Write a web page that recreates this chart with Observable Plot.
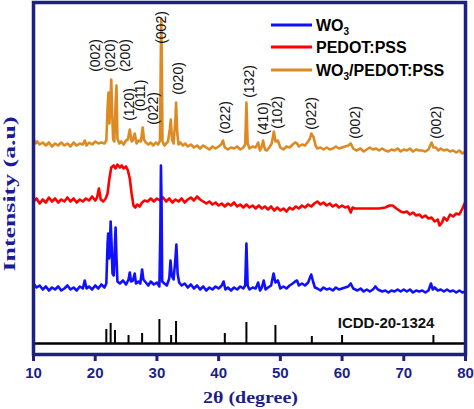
<!DOCTYPE html>
<html><head><meta charset="utf-8">
<script src="https://cdn.jsdelivr.net/npm/d3@7"></script>
<script src="https://cdn.jsdelivr.net/npm/@observablehq/plot@0.6"></script>
<style>body{margin:0;background:#fff} svg{display:block}</style>
</head><body><div id="chart"></div>
<script>
// ---- data (2θ in degrees, intensity in a.u., traces as stacked in the figure) ----
const seriesNames = ["WO3", "PEDOT:PSS", "WO3/PEDOT:PSS"];
const seriesColors = ["#1010ff", "#ff0000", "#dd8a22"];

const wo3 = [
 [10,70],[10.5,66],[11,68],[11.5,64],[12,67],[12.5,63],[13,66],[13.5,64],[14,67],[14.5,63],
 [15,65],[15.5,68],[16,64],[16.5,66],[17,63],[17.5,67],[18,65],[18.3,73],[18.6,65],[19,67],
 [19.5,64],[20,68],[20.5,65],[21,69],[21.5,66],[21.8,70],[22,110],[22.1,120],[22.25,95],[22.35,100],
 [22.5,132],[22.65,110],[22.8,80],[23,78],[23.2,110],[23.3,126],[23.45,95],[23.6,72],[24,70],[24.5,73],
 [25,69],[25.4,74],[25.6,81],[25.8,72],[26.1,73],[26.4,80],[26.6,70],[27,72],[27.3,70],[27.6,84],
 [27.8,74],[28.2,71],[28.6,68],[29,72],[29.5,69],[30,71],[30.4,67],[30.55,120],[30.65,188],[30.75,150],
 [30.85,72],[31.2,70],[31.6,68],[32,75],[32.2,93],[32.4,78],[32.7,74],[33,95],[33.15,109],[33.35,80],
 [33.6,71],[34,68],[34.5,70],[35,66],[35.5,69],[36,65],[36.5,68],[37,64],[37.5,67],[38,63],
 [38.5,66],[39,64],[39.5,67],[40,65],[40.5,68],[40.8,72],[41.1,64],[41.5,66],[42,63],[42.5,66],
 [43,64],[43.5,67],[44,65],[44.3,68],[44.5,110],[44.7,68],[45,64],[45.5,66],[46,65],[46.4,71],
 [46.7,63],[47,66],[47.3,73],[47.6,64],[48,66],[48.5,68],[48.9,80],[49.2,71],[49.6,73],[50,65],
 [50.5,67],[51,65],[51.5,68],[52,70],[52.4,72],[52.7,73],[53,68],[53.5,70],[54,68],[54.5,71],
 [54.8,76],[55,79],[55.3,72],[55.6,66],[56,65],[56.5,63],[57,66],[57.5,64],[58,65],[58.5,63],
 [59,66],[59.5,64],[60,65],[60.5,66],[61,67],[61.4,70],[61.8,65],[62.5,63],[63,65],[63.5,62],
 [64,64],[64.5,62],[65,64],[65.4,67],[65.8,64],[66.5,62],[67,63],[67.5,61],[68,63],[68.5,62],
 [69,64],[69.5,62],[70,64],[70.5,62],[71,64],[71.5,61],[72,63],[72.5,62],[73,63],[73.5,61],
 [74,63],[74.4,70],[74.7,64],[75,66],[75.5,63],[76,64],[76.5,62],[77,64],[77.5,62],[78,63],
 [78.5,61],[79,63],[79.5,61],[80,62]
];

const pedot = [
 [10,152],[10.5,155],[11,150],[11.5,154],[12,151],[12.5,156],[13,152],[13.5,155],[14,151],[14.5,154],
 [15,152],[15.5,156],[16,152],[16.5,155],[17,151],[17.5,154],[18,152],[18.5,155],[19,153],[19.5,157],
 [20,153],[20.3,156],[20.6,165],[20.9,154],[21.3,152],[21.7,155],[22,160],[22.3,175],[22.6,186],[23,188],
 [23.3,185],[23.6,189],[24,186],[24.3,188],[24.6,185],[25,187],[25.3,183],[25.6,175],[25.9,160],[26.2,148],
 [26.5,146],[26.8,149],[27.2,147],[27.6,151],[28,153],[28.5,152],[29,155],[29.5,152],[30,155],[30.5,153],
 [31,156],[31.5,152],[32,155],[32.5,151],[33,154],[33.5,152],[34,155],[34.5,151],[35,154],[35.5,156],
 [36,153],[36.5,157],[37,154],[37.5,152],[38,150],[38.5,152],[39,149],[39.5,151],[40,148],[40.5,150],
 [41,147],[41.5,150],[42,148],[42.5,151],[43,147],[43.5,149],[44,146],[44.5,149],[45,146],[45.5,148],
 [46,145],[46.5,148],[47,145],[47.5,147],[48,144],[48.5,147],[49,143],[49.5,146],[50,143],[50.5,145],
 [51,142],[51.5,146],[52,144],[52.5,147],[53,145],[53.5,148],[54,146],[54.5,149],[55,147],[55.5,150],
 [56,152],[56.5,149],[57,151],[57.5,148],[58,150],[58.5,147],[59,149],[59.5,146],[60,148],[60.5,146],
 [61,147],[61.4,141],[61.7,146],[62,145],[63,145],[64,145],[65,145],[66,145],[67,146],[67.7,148],
 [68.2,148],[68.8,145],[69.5,142],[70,141],[70.5,142],[71,139],[71.5,141],[72,138],[72.5,139],[73,136],
 [73.5,138],[74,135],[74.5,136],[75,132],[75.5,134],[75.8,128],[76.2,131],[76.5,136],[77,133],[77.5,139],
 [78,137],[78.5,140],[79,139],[79.5,145],[80,152]
];

const composite = [
 [10,215],[10.3,210],[10.6,212],[11,209],[11.5,211],[12,208],[12.5,211],[13,207],[13.5,210],[14,208],
 [14.5,211],[15,208],[15.5,210],[16,207],[16.5,211],[17,208],[17.5,210],[18,209],[18.3,213],[18.6,208],
 [19,211],[19.5,209],[20,212],[20.5,210],[21,211],[21.5,210],[21.8,213],[22,245],[22.15,261],[22.3,230],
 [22.45,250],[22.6,274],[22.75,240],[22.9,214],[23.1,212],[23.3,250],[23.45,268],[23.6,215],[23.9,210],[24.2,212],
 [24.6,209],[25,213],[25.3,214],[25.6,224],[25.9,212],[26.1,213],[26.4,220],[26.7,210],[27,213],[27.4,212],
 [27.7,226],[27.9,214],[28.2,211],[28.6,209],[29,211],[29.4,208],[29.8,211],[30.2,209],[30.5,213],[30.6,280],
 [30.7,335],[30.8,290],[30.9,212],[31.2,208],[31.5,210],[31.8,212],[32.1,225],[32.25,234],[32.45,214],[32.7,210],
 [33,235],[33.1,251],[33.3,220],[33.5,209],[33.8,211],[34.2,208],[34.6,210],[35,207],[35.5,209],[36,206],
 [36.5,208],[37,205],[37.5,208],[38,206],[38.5,204],[39,207],[39.5,205],[40,207],[40.4,209],[40.7,213],
 [41,206],[41.5,204],[42,206],[42.5,205],[43,207],[43.5,204],[44,206],[44.3,209],[44.5,251],[44.7,210],
 [45,205],[45.5,207],[46,206],[46.4,211],[46.7,203],[47,207],[47.2,213],[47.5,204],[47.8,203],[48.2,206],
 [48.6,210],[48.95,222],[49.2,212],[49.6,213],[50,206],[50.5,204],[51,207],[51.5,206],[52,209],[52.4,211],
 [52.7,210],[53,207],[53.5,209],[54,208],[54.5,212],[54.8,215],[55,220],[55.4,216],[55.7,208],[56,205],
 [56.5,206],[57,204],[57.5,206],[58,204],[58.5,205],[59,207],[59.5,205],[60,206],[60.5,207],[61,208],
 [61.4,210],[61.8,205],[62.3,203],[63,205],[63.5,202],[64,204],[64.5,206],[65,204],[65.5,205],[66,203],
 [66.5,205],[67,203],[67.5,202],[68,204],[68.5,203],[69,205],[69.5,202],[70,204],[70.5,203],[71,205],
 [71.5,202],[72,204],[72.5,203],[73,203],[73.5,202],[74,204],[74.5,211],[74.8,206],[75.2,206],[75.6,203],
 [76,205],[76.5,203],[77,204],[77.5,202],[78,203],[78.5,201],[79,203],[79.5,200],[80,202]
];

// ICDD 20-1324 reference pattern: positions and relative stick heights
const icddPos = [21.8, 22.5, 23.2, 25.4, 27.6, 30.4, 32.3, 33.1, 41.0, 44.5, 49.2, 55.1, 60.0, 74.8];
const icddInt = [14, 20, 13, 8, 10, 24, 8, 22, 10, 21, 18, 7, 8, 8];
const icddBase = 10;
const icddName = "ICDD-20-1324";

// hkl annotations on the composite trace
const hklText = ["(002)","(020)","(200)","(120)","(011)","(022)","(002)","(020)","(022)","(132)","(410)","(102)","(022)","(002)","(002)"];
const hklX    = [20.05, 22.5, 24.9, 25.6, 27.3, 29.5, 30.7, 33.55, 41.1, 45.0, 47.2, 49.5, 55.05, 62.2, 75.3];
const hklY    = [298, 298, 298, 249, 258, 245, 326, 275, 236, 272, 235, 241, 240, 231, 231];

const xTicks = [10, 20, 30, 40, 50, 60, 70, 80];
const xTitle = "2θ (degree)";
const yTitle = "Intensity (a.u)";

// ---- build ----
const rows = (arr) => arr.map(([x, y]) => ({x, y}));
const sticks = icddPos.map((x, i) => ({x, h: icddInt[i]}));
const hkl = hklText.map((t, i) => ({t, x: hklX[i], y: hklY[i]}));
const navy = "#1c1f86";
const sans = "Arial, 'Liberation Sans', sans-serif";
const serif = "'Times New Roman', 'Liberation Serif', serif";

const chart = Plot.plot({
  width: 474, height: 409,
  marginLeft: 33, marginRight: 9, marginTop: 2, marginBottom: 55,
  x: {domain: [10, 80], axis: null, label: null},
  y: {domain: [-1, 351], axis: null, label: null},
  style: {fontFamily: sans, background: "#fff", overflow: "visible"},
  marks: [
    Plot.ruleY([icddBase], {stroke: "#000", strokeWidth: 2.5}),
    Plot.ruleX(sticks, {x: "x", y1: () => icddBase, y2: d => icddBase + d.h, stroke: "#000", strokeWidth: 2}),
    Plot.line(rows(pedot), {x: "x", y: "y", stroke: seriesColors[1], strokeWidth: 2.6, strokeLinejoin: "round"}),
    Plot.line(rows(composite), {x: "x", y: "y", stroke: seriesColors[2], strokeWidth: 2.6, strokeLinejoin: "round"}),
    Plot.line(rows(wo3), {x: "x", y: "y", stroke: seriesColors[0], strokeWidth: 2.6, strokeLinejoin: "round"}),
    Plot.text(hkl, {x: "x", y: "y", text: "t", rotate: -90, fontSize: 14, fill: "#111", fontFamily: sans}),
    Plot.text([icddName], {x: () => 59.3, y: () => icddBase + 20, text: d => d, textAnchor: "start", fontSize: 15, fontWeight: "bold", fill: "#111"}),
    Plot.axisX({ticks: xTicks, tickSize: 7, tickPadding: 6, color: navy, strokeWidth: 3, fontSize: 15, label: null, tickFormat: d => String(d)}),
    Plot.frame({stroke: navy, strokeWidth: 3.5})
  ]
});

const svg = d3.select(chart);
svg.selectAll("[aria-label='x-axis tick label'] text, [aria-label='x-axis tick label']")
   .attr("font-weight", "bold").attr("fill", navy);

// axis titles
svg.append("text").text(xTitle)
  .attr("x", 250.5).attr("y", 403).attr("text-anchor", "middle")
  .attr("font-family", serif).attr("font-weight", "bold").attr("font-size", 17)
  .attr("fill", navy).attr("textLength", 95).attr("lengthAdjust", "spacingAndGlyphs");
svg.append("text").text(yTitle)
  .attr("transform", "translate(15,194) rotate(-90)").attr("text-anchor", "middle")
  .attr("font-family", serif).attr("font-weight", "bold").attr("font-size", 17)
  .attr("fill", "#1a1a9c").attr("textLength", 155).attr("lengthAdjust", "spacingAndGlyphs");

// legend
const leg = svg.append("g").attr("font-family", sans).attr("font-weight", "bold")
  .attr("font-size", 16).attr("fill", "#000").attr("text-anchor", "start");
const rowsY = [25, 47, 70];
seriesNames.forEach((name, i) => {
  const y = rowsY[i];
  leg.append("line").attr("x1", 271).attr("x2", 312).attr("y1", y).attr("y2", y)
     .attr("stroke", seriesColors[i]).attr("stroke-width", 3);
  const t = leg.append("text").attr("x", 316).attr("y", y + 6).attr("text-anchor", "start");
  const m = name.match(/^(WO)3(.*)$/);
  if (m) {
    t.append("tspan").text(m[1]);
    t.append("tspan").text("3").attr("font-size", 10).attr("dy", 4);
    if (m[2]) t.append("tspan").text(m[2]).attr("dy", -4);
  } else {
    t.text(name);
  }
});

document.getElementById("chart").append(chart);
</script>
</body></html>
